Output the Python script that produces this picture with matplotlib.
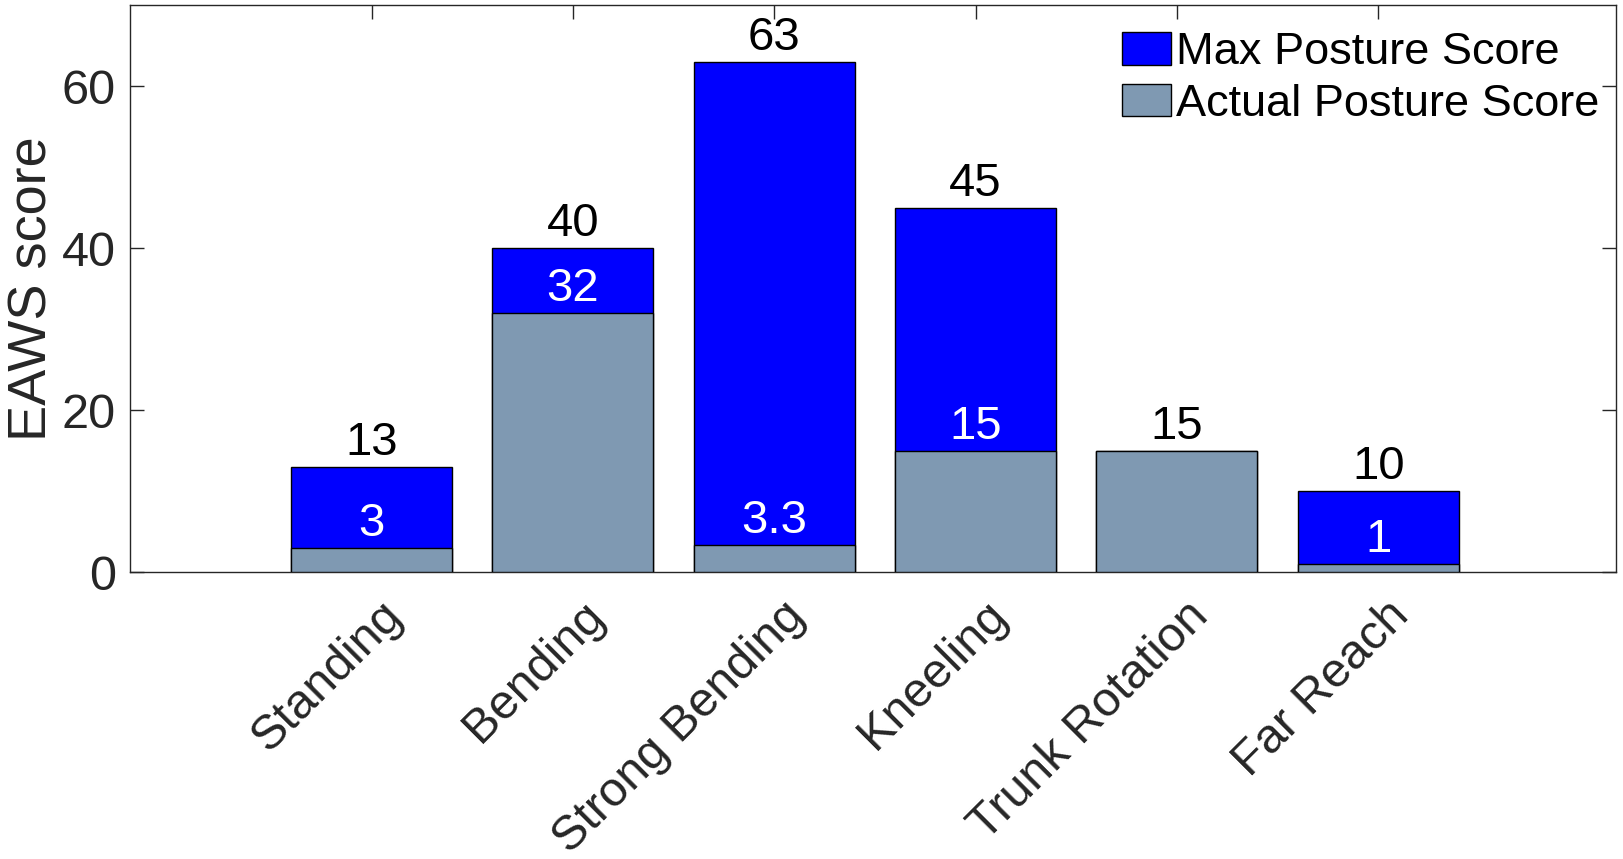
import numpy as np
import matplotlib
matplotlib.use("Agg")
import matplotlib.pyplot as plt
import matplotlib.transforms as mtransforms

# data
categories = ["Standing", "Bending", "Strong Bending", "Kneeling", "Trunk Rotation", "Far Reach"]
max_score = [13, 40, 63, 45, 15, 10]
actual_score = [3, 32, 3.3, 15, 15, 1]

plt.rcParams['font.family'] = ['Liberation Sans', 'DejaVu Sans']

fig = plt.figure(figsize=(16.24, 8.59), dpi=100)
ax = fig.add_axes([0.080, 0.334, 0.915, 0.660])

x = np.arange(len(categories))
w = 0.8
ax.bar(x, max_score, w, color="#0000FF", edgecolor="black", linewidth=1.0,
       label="Max Posture Score", zorder=2)
ax.bar(x, actual_score, w, color="#7F99B2", edgecolor="black", linewidth=1.0,
       label="Actual Posture Score", zorder=3)

for xi, m, a in zip(x, max_score, actual_score):
    ax.annotate(f"{m:g}", (xi, m), xytext=(0, 1.5), textcoords="offset points",
                ha="center", va="bottom", fontsize=34, color="black", zorder=5)
    if a != m:
        ax.annotate(f"{a:g}", (xi, a), xytext=(0, 1.5), textcoords="offset points",
                    ha="center", va="bottom", fontsize=34, color="white", zorder=5)

ax.set_xlim(-1.2, 6.18)
ax.set_ylim(0, 70)
ax.set_yticks([0, 20, 40, 60])
ax.set_xticks(x)
ax.set_xticklabels(categories, rotation=45, ha="right", va="top", rotation_mode="anchor")

ax.tick_params(direction="in", length=10, width=1.0, colors="#262626",
               labelsize=35, top=True, right=True, pad=10)
ax.tick_params(axis="x", pad=15)
shift = mtransforms.ScaledTranslation(8 / 100, 0, fig.dpi_scale_trans)
for lab in ax.get_xticklabels():
    lab.set_transform(lab.get_transform() + shift)
for s in ax.spines.values():
    s.set_color("#262626")
    s.set_linewidth(1.0)

ax.set_ylabel("EAWS score", fontsize=39, color="#262626")
ax.yaxis.set_label_coords(-0.049, 0.5)

leg = ax.legend(loc="upper right", bbox_to_anchor=(1.007, 1.0), frameon=False, fontsize=32.5,
                handlelength=1.09, handleheight=0.73, handletextpad=0.1,
                labelspacing=0.23, borderaxespad=0.2)

fig.savefig("out.png", dpi=100)
